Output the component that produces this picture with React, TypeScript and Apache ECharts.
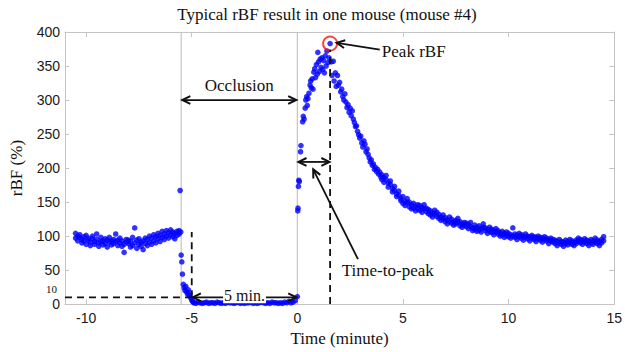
import React, { useEffect, useRef } from 'react';
import * as echarts from 'echarts';

// ---------- data (time in minutes, rBF in %) ----------
const X_TICKS = [-10, -5, 0, 5, 10, 15];
const Y_EXTRA_TICK = 10;

const baseline: [number, number][] = [
  [-10.5, 104], [-10.5, 97], [-10.4, 100], [-10.4, 93], [-10.3, 98], [-10.3, 102], [-10.2, 95], [-10.2, 90],
  [-10.1, 99], [-10.1, 93], [-10.0, 101], [-10.0, 88], [-9.9, 94], [-9.9, 97], [-9.8, 91], [-9.8, 86],
  [-9.7, 96], [-9.7, 100], [-9.6, 92], [-9.6, 88], [-9.5, 95], [-9.5, 103], [-9.4, 90], [-9.4, 85],
  [-9.3, 98], [-9.3, 92], [-9.2, 93], [-9.2, 87], [-9.1, 89], [-9.1, 96], [-9.0, 94], [-9.0, 84],
  [-8.9, 91], [-8.9, 98], [-8.8, 87], [-8.8, 93], [-8.7, 95], [-8.7, 89], [-8.6, 92], [-8.6, 103],
  [-8.5, 86], [-8.5, 94], [-8.4, 90], [-8.4, 97], [-8.3, 93], [-8.3, 85], [-8.2, 88], [-8.2, 76],
  [-8.1, 95], [-8.1, 91], [-8.0, 89], [-8.0, 94], [-7.9, 92], [-7.9, 84], [-7.8, 86], [-7.8, 98],
  [-7.7, 90], [-7.7, 112], [-7.6, 94], [-7.6, 82], [-7.5, 88], [-7.5, 96], [-7.4, 85], [-7.4, 91],
  [-7.3, 93], [-7.3, 80], [-7.2, 89], [-7.2, 97], [-7.1, 95], [-7.1, 86], [-7.0, 91], [-7.0, 100],
  [-6.9, 97], [-6.9, 88], [-6.8, 93], [-6.8, 102], [-6.7, 99], [-6.7, 90], [-6.6, 96], [-6.6, 104],
  [-6.5, 101], [-6.5, 92], [-6.4, 98], [-6.4, 107], [-6.3, 103], [-6.3, 95], [-6.2, 100], [-6.2, 108],
  [-6.1, 105], [-6.1, 97], [-6.0, 102], [-6.0, 109], [-5.9, 99], [-5.9, 106], [-5.8, 104], [-5.8, 96],
  [-5.7, 107], [-5.7, 101], [-5.6, 103], [-5.6, 108],
];

const dropPhase: [number, number][] = [
  [-5.55, 167], [-5.52, 106], [-5.5, 72], [-5.47, 62], [-5.44, 44], [-5.4, 29], [-5.36, 24], [-5.32, 20],
  [-5.28, 26], [-5.24, 18], [-5.2, 15], [-5.16, 21], [-5.12, 12], [-5.08, 16], [-5.04, 9], [-5.0, 6],
  [-4.96, 4], [-4.92, 3],
];

const occlusion: [number, number][] = [
  [-4.9, 2], [-4.8, 1], [-4.7, 3], [-4.6, 2], [-4.5, 1], [-4.4, 2], [-4.3, 3], [-4.2, 1], [-4.1, 2], [-4.0, 2],
  [-3.9, 1], [-3.8, 3], [-3.7, 2], [-3.6, 1], [-3.5, 2], [-3.4, 1], [-3.3, 3], [-3.2, 2], [-3.1, 2], [-3.0, 1],
  [-2.9, 2], [-2.8, 3], [-2.7, 1], [-2.6, 2], [-2.5, 1], [-2.4, 2], [-2.3, 2], [-2.2, 3], [-2.1, 1], [-2.0, 2],
  [-1.9, 1], [-1.8, 2], [-1.7, 3], [-1.6, 2], [-1.5, 1], [-1.4, 2], [-1.3, 1], [-1.2, 3], [-1.1, 2], [-1.0, 2],
  [-0.9, 1], [-0.8, 2], [-0.7, 1], [-0.6, 3], [-0.5, 2], [-0.4, 4], [-0.3, 2], [-0.2, 3], [-0.1, 5],
];

const reperfusion: [number, number][] = [
  [0.0, 11], [0.02, 137], [0.03, 141], [0.05, 173], [0.07, 182], [0.09, 180], [0.15, 224], [0.17, 233],
  [0.25, 268], [0.28, 276], [0.32, 272], [0.37, 288], [0.4, 300], [0.44, 305], [0.47, 292], [0.5, 302],
  [0.55, 310], [0.6, 322], [0.63, 328], [0.66, 318], [0.7, 331], [0.74, 316], [0.78, 341], [0.82, 346],
  [0.86, 333], [0.9, 352], [0.94, 338], [0.97, 370], [1.0, 356], [1.04, 342], [1.08, 360], [1.12, 348],
  [1.16, 362], [1.2, 345], [1.24, 358], [1.28, 340], [1.32, 365], [1.36, 350], [1.4, 372], [1.45, 355],
  [1.5, 362], [1.55, 383], [1.6, 356], [1.64, 336], [1.7, 357], [1.74, 328], [1.8, 340], [1.84, 320],
  [1.9, 336], [1.94, 322], [2.0, 326], [2.05, 312], [2.1, 316], [2.15, 305], [2.2, 300], [2.25, 309],
  [2.3, 297], [2.35, 289], [2.4, 293], [2.45, 282], [2.5, 288], [2.55, 277], [2.6, 284], [2.65, 272],
  [2.7, 267], [2.75, 261], [2.8, 262], [2.85, 254], [2.9, 249], [2.95, 244], [3.0, 247], [3.05, 237],
  [3.1, 231], [3.15, 240], [3.2, 235], [3.25, 224], [3.3, 228], [3.35, 220], [3.4, 215], [3.45, 209],
  [3.5, 212], [3.55, 204], [3.6, 206], [3.65, 198], [3.7, 201], [3.75, 195], [3.8, 198], [3.85, 191],
  [3.9, 194], [3.95, 187], [4.0, 190], [4.0, 183],
];

const decay: [number, number][] = [
  [4.1, 186], [4.1, 179], [4.2, 183], [4.2, 189], [4.3, 178], [4.3, 172], [4.4, 176], [4.4, 181],
  [4.5, 170], [4.5, 165], [4.6, 167], [4.6, 173], [4.7, 162], [4.7, 158], [4.8, 160], [4.8, 166],
  [4.9, 155], [4.9, 152], [5.0, 158], [5.0, 148], [5.1, 151], [5.1, 145], [5.2, 149], [5.2, 155],
  [5.3, 143], [5.3, 150], [5.4, 146], [5.4, 140], [5.5, 148], [5.5, 141], [5.6, 144], [5.6, 137],
  [5.7, 146], [5.7, 140], [5.8, 138], [5.8, 145], [5.9, 142], [5.9, 135], [6.0, 140], [6.0, 146],
  [6.1, 136], [6.1, 141], [6.2, 139], [6.2, 133], [6.3, 137], [6.3, 131], [6.4, 134], [6.4, 128],
  [6.5, 132], [6.5, 138], [6.6, 129], [6.6, 135], [6.7, 126], [6.7, 132], [6.8, 128], [6.8, 123],
  [6.9, 125], [6.9, 131], [7.0, 121], [7.0, 127], [7.1, 124], [7.1, 118], [7.2, 122], [7.2, 128],
  [7.3, 119], [7.3, 125], [7.4, 121], [7.4, 116], [7.5, 123], [7.5, 118], [7.6, 120], [7.6, 126],
  [7.7, 115], [7.7, 121], [7.8, 118], [7.8, 113], [7.9, 120], [7.9, 116], [8.0, 114], [8.0, 119],
  [8.1, 117], [8.1, 111], [8.2, 114], [8.2, 120], [8.3, 112], [8.3, 108], [8.4, 116], [8.4, 110],
  [8.5, 113], [8.5, 107], [8.6, 115], [8.6, 109], [8.7, 111], [8.7, 106], [8.8, 113], [8.8, 118],
  [8.9, 108], [8.9, 112], [9.0, 110], [9.0, 104], [9.1, 107], [9.1, 113], [9.2, 105], [9.2, 110],
  [9.3, 108], [9.3, 102], [9.4, 106], [9.4, 111], [9.5, 103], [9.5, 108], [9.6, 105], [9.6, 100],
  [9.7, 107], [9.7, 102], [9.8, 104], [9.8, 98], [9.9, 101], [9.9, 106], [10.0, 99], [10.0, 104],
  [10.1, 102], [10.1, 97], [10.2, 100], [10.2, 112], [10.3, 98], [10.3, 103], [10.4, 101], [10.4, 95],
  [10.5, 99], [10.5, 104], [10.6, 97], [10.6, 102], [10.7, 100], [10.7, 94], [10.8, 98], [10.8, 103],
  [10.9, 96], [10.9, 100], [11.0, 99], [11.0, 93], [11.1, 97], [11.1, 101], [11.2, 95], [11.2, 99],
  [11.3, 98], [11.3, 92], [11.4, 96], [11.4, 100], [11.5, 94], [11.5, 98], [11.6, 97], [11.6, 91],
  [11.7, 95], [11.7, 99], [11.8, 93], [11.8, 97], [11.9, 95], [11.9, 89], [12.0, 93], [12.0, 97],
  [12.1, 91], [12.1, 95], [12.2, 89], [12.2, 94], [12.3, 92], [12.3, 86], [12.4, 90], [12.4, 95],
  [12.5, 88], [12.5, 92], [12.6, 91], [12.6, 85], [12.7, 89], [12.7, 94], [12.8, 92], [12.8, 87],
  [12.9, 90], [12.9, 95], [13.0, 88], [13.0, 93], [13.1, 91], [13.1, 86], [13.2, 94], [13.2, 89],
  [13.3, 92], [13.3, 97], [13.4, 90], [13.4, 95], [13.5, 88], [13.5, 93], [13.6, 91], [13.6, 96],
  [13.7, 89], [13.7, 94], [13.8, 92], [13.8, 86], [13.9, 90], [13.9, 95], [14.0, 88], [14.0, 93],
  [14.1, 91], [14.1, 97], [14.2, 89], [14.2, 94], [14.3, 92], [14.3, 86], [14.4, 95], [14.4, 90],
  [14.5, 99], [14.5, 93],
];

// ---------- annotation anchors (data coordinates) ----------
const OCCLUSION_START = -5.5;
const REPERFUSION_TIME = 0;
const FIVE_MIN_START = -5;

const SERIF = '"Liberation Serif", "Times New Roman", serif';
const SANS = '"Liberation Sans", Arial, sans-serif';

type Pt = [number, number];

export default function App() {
  const ref = useRef<HTMLDivElement>(null);

  useEffect(() => {
    if (!ref.current) return;
    const chart = echarts.init(ref.current, null, { renderer: 'svg', width: 625, height: 352 });
    const allPoints = [...baseline, ...dropPhase, ...occlusion, ...reperfusion, ...decay];
    const peak = allPoints.reduce((a, b) => (b[1] > a[1] ? b : a));

    const gray = '#c4c4c4';
    const xBase = {
      type: 'value', min: -11, max: 15,
      axisLine: { show: true, onZero: false, lineStyle: { color: gray, width: 1 } },
      splitLine: { show: false },
    };
    const yBase = {
      type: 'value', min: 0, max: 400, interval: 50,
      axisLine: { show: true, onZero: false, lineStyle: { color: gray, width: 1 } },
      splitLine: { show: false },
    };

    chart.setOption({
      animation: false,
      backgroundColor: '#ffffff',
      grid: { left: 64, right: 8, top: 32, bottom: 42 },
      xAxis: [
        {
          ...xBase, position: 'bottom',
          name: 'Time (minute)', nameLocation: 'middle', nameGap: 23,
          nameTextStyle: { fontFamily: SERIF, fontSize: 17, color: '#111' },
          axisTick: { show: true, inside: true, length: 5, lineStyle: { color: gray }, customValues: X_TICKS },
          axisLabel: { fontFamily: SANS, fontSize: 14, color: '#1a1a1a', margin: 7, customValues: X_TICKS },
        },
        {
          ...xBase, position: 'top',
          axisTick: { show: true, inside: true, length: 5, lineStyle: { color: gray }, customValues: X_TICKS },
          axisLabel: { show: false },
        },
      ],
      yAxis: [
        {
          ...yBase, position: 'left',
          name: 'rBF (%)', nameLocation: 'middle', nameGap: 40, nameRotate: 90,
          nameTextStyle: { fontFamily: SERIF, fontSize: 17, color: '#111' },
          axisTick: { show: true, inside: true, length: 4, lineStyle: { color: gray } },
          axisLabel: { fontFamily: SANS, fontSize: 14, color: '#1a1a1a', margin: 5 },
        },
        {
          ...yBase, position: 'right',
          axisTick: { show: true, inside: true, length: 5, lineStyle: { color: gray } },
          axisLabel: { show: false },
        },
      ],
      series: [
        {
          type: 'scatter', xAxisIndex: 0, yAxisIndex: 0,
          data: allPoints, symbol: 'circle', symbolSize: 5.6,
          itemStyle: { color: '#0000ff' }, z: 3,
        },
        {
          type: 'scatter', xAxisIndex: 0, yAxisIndex: 0,
          data: [peak], symbol: 'circle', symbolSize: 14,
          itemStyle: { color: 'rgba(0,0,0,0)', borderColor: '#ff1010', borderWidth: 2 }, z: 6,
        },
      ],
    });

    const px = (p: Pt): number[] => chart.convertToPixel({ seriesIndex: 0 }, p) as number[];
    const g: any[] = [];
    const black = '#111';

    const line = (a: Pt, b: Pt, z = 10, dash?: number[], color = black, width = 1.8) => {
      const pa = px(a); const pb = px(b);
      g.push({
        type: 'line', z, silent: true,
        shape: { x1: pa[0], y1: pa[1], x2: pb[0], y2: pb[1] },
        style: { stroke: color, lineWidth: width, lineDash: dash },
      });
    };
    const headAt = (tip: number[], from: number[], z = 10) => {
      const ang = Math.atan2(from[1] - tip[1], from[0] - tip[0]);
      const L = 9; const w = 0.45;
      const p1 = [tip[0] + L * Math.cos(ang + w), tip[1] + L * Math.sin(ang + w)];
      const p2 = [tip[0] + L * Math.cos(ang - w), tip[1] + L * Math.sin(ang - w)];
      g.push({
        type: 'polyline', z, silent: true,
        shape: { points: [p1, tip, p2] },
        style: { stroke: black, lineWidth: 2, fill: null },
      });
    };
    const arrow = (from: Pt, to: Pt, both: boolean) => {
      line(from, to);
      const a = px(from); const b = px(to);
      headAt(b, a);
      if (both) headAt(a, b);
    };
    const text = (s: string, p: Pt, align: string, size = 17, bg?: string) => {
      const pp = px(p);
      g.push({
        type: 'text', z: 12, silent: true, x: pp[0], y: pp[1],
        style: {
          text: s, fontFamily: SERIF, fontSize: size, fill: '#111',
          align, verticalAlign: 'middle',
          backgroundColor: bg, padding: bg ? [0, 1] : 0,
        },
      });
    };

    // gray event lines
    line([OCCLUSION_START, 0], [OCCLUSION_START, 400], 1, undefined, gray, 1.2);
    line([REPERFUSION_TIME, 0], [REPERFUSION_TIME, 400], 1, undefined, gray, 1.2);

    // dashed guides
    line([-11, Y_EXTRA_TICK], [FIVE_MIN_START, Y_EXTRA_TICK], 10, [7, 5]);
    line([FIVE_MIN_START, Y_EXTRA_TICK], [FIVE_MIN_START, 106], 10, [7, 5]);
    line([peak[0], 0], [peak[0], 374], 10, [7, 5]);

    // arrows
    arrow([OCCLUSION_START + 0.05, 300], [REPERFUSION_TIME - 0.05, 300], true);
    arrow([FIVE_MIN_START + 0.05, Y_EXTRA_TICK], [REPERFUSION_TIME - 0.05, Y_EXTRA_TICK], true);
    arrow([REPERFUSION_TIME + 0.05, 209], [peak[0] - 0.03, 209], true);
    arrow([3.9, 374], [1.86, 384], false);
    arrow([2.87, 66], [0.75, 198], false);

    // labels
    text('Occlusion', [-2.75, 321], 'center');
    text('5 min.', [-2.5, Y_EXTRA_TICK + 3], 'center', 16, '#ffffff');
    text('Peak rBF', [4.0, 372], 'left');
    text('Time-to-peak', [4.28, 50], 'center');

    // extra "10" tick label on the y axis
    const p10 = px([-11, Y_EXTRA_TICK]);
    g.push({
      type: 'text', z: 12, silent: true, x: p10[0] - 8, y: p10[1] - 8,
      style: { text: String(Y_EXTRA_TICK), fontFamily: SERIF, fontSize: 11, fill: '#111', align: 'right', verticalAlign: 'middle' },
    });

    // title
    g.push({
      type: 'text', z: 12, silent: true, x: 327, y: 14,
      style: { text: 'Typical rBF result in one mouse (mouse #4)', fontFamily: SERIF, fontSize: 17, fill: '#111', align: 'center', verticalAlign: 'middle' },
    });

    chart.setOption({ graphic: g });

    return () => chart.dispose();
  }, []);

  return (
    <div
      ref={ref}
      style={{ position: 'fixed', left: 0, top: 0, width: 625, height: 352, background: '#fff' }}
    />
  );
}
